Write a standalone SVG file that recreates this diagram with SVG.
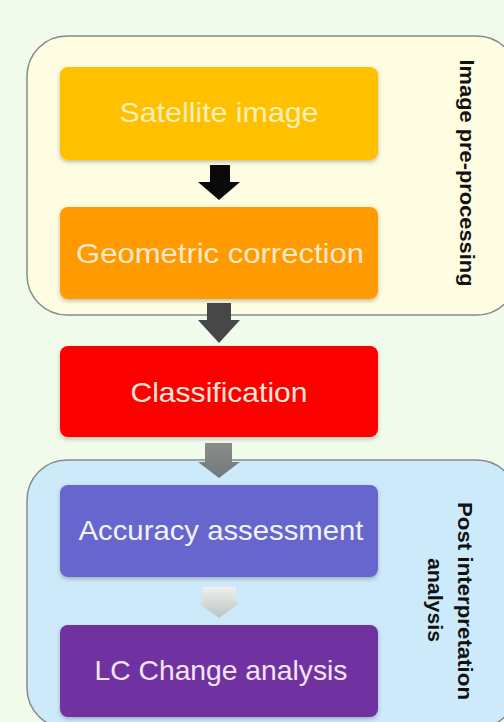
<svg xmlns="http://www.w3.org/2000/svg" width="504" height="722" viewBox="0 0 504 722">
<defs>
<style>
.box{stroke:none}
.lbl{font-family:"Liberation Sans",Arial,sans-serif;font-size:28px;text-anchor:middle}
.side{font-family:"Liberation Sans",Arial,sans-serif;font-size:20px;font-weight:bold;fill:#111;text-anchor:middle}
.cont{stroke:#8a8a8a;stroke-width:1.5}
</style>
<linearGradient id="g3" x1="0" y1="0" x2="0" y2="1"><stop offset="0" stop-color="#8c8c8c"/><stop offset="1" stop-color="#6f7a7a"/></linearGradient>
<linearGradient id="g4" x1="0" y1="0" x2="0" y2="1"><stop offset="0" stop-color="#f2f0ec"/><stop offset="1" stop-color="#b8c4c4"/></linearGradient>
<filter id="sh" x="-10%" y="-10%" width="120%" height="130%"><feDropShadow dx="0" dy="2" stdDeviation="2" flood-color="#000" flood-opacity="0.25"/></filter>
</defs>
<rect x="0" y="0" width="504" height="722" fill="#f0fbec"/>
<g id="group-preprocessing">
<rect class="cont" x="27" y="36" width="490" height="279" rx="40" fill="#fefde1"/>
<text class="side" transform="translate(460,173) rotate(90)" textLength="227" lengthAdjust="spacingAndGlyphs">Image pre-processing</text>
</g>
<g id="group-post">
<rect class="cont" x="27" y="460" width="490" height="268" rx="40" fill="#cdeafa"/>
<text class="side" transform="translate(458,601) rotate(90)" textLength="198" lengthAdjust="spacingAndGlyphs">Post interpretation</text>
<text class="side" transform="translate(428,600) rotate(90)" textLength="84" lengthAdjust="spacingAndGlyphs">analysis</text>
</g>
<g id="connectors">
<path d="M210,165 H230 V182 H240 L219,200 L198,182 H210 Z" fill="#0a0a0a"/>
<path d="M207,303 H231 V320 H240 L219,343 L198,320 H207 Z" fill="#474747"/>
<path d="M205,443 H232 V462 H240 L219,478 L198,462 H205 Z" fill="url(#g3)"/>
<path d="M202,587 H236 V603 H240 L219,618 L198,603 H202 Z" fill="url(#g4)"/>
</g>
<g id="n-satellite">
<rect class="box" x="60" y="67" width="318" height="93" rx="8" fill="#ffc000" filter="url(#sh)"/>
<text class="lbl" x="219" y="122" fill="#fff0b8" textLength="199" lengthAdjust="spacingAndGlyphs">Satellite image</text>
</g>
<g id="n-geometric">
<rect class="box" x="60" y="207" width="318" height="92" rx="8" fill="#ff9a00" filter="url(#sh)"/>
<text class="lbl" x="220" y="263" fill="#ffe9cc" textLength="288" lengthAdjust="spacingAndGlyphs">Geometric correction</text>
</g>
<g id="n-classification">
<rect class="box" x="60" y="346" width="318" height="91" rx="8" fill="#fc0000" filter="url(#sh)"/>
<text class="lbl" x="219" y="402" fill="#ffe4d8" textLength="177" lengthAdjust="spacingAndGlyphs">Classification</text>
</g>
<g id="n-accuracy">
<rect class="box" x="60" y="485" width="318" height="92" rx="8" fill="#6666cc" filter="url(#sh)"/>
<text class="lbl" x="221" y="540" fill="#f2f2ff" textLength="285" lengthAdjust="spacingAndGlyphs">Accuracy assessment</text>
</g>
<g id="n-lcchange">
<rect class="box" x="60" y="625" width="318" height="92" rx="8" fill="#7030a0" filter="url(#sh)"/>
<text class="lbl" x="221" y="680" fill="#f4e4fa" textLength="253" lengthAdjust="spacingAndGlyphs">LC Change analysis</text>
</g>
</svg>
